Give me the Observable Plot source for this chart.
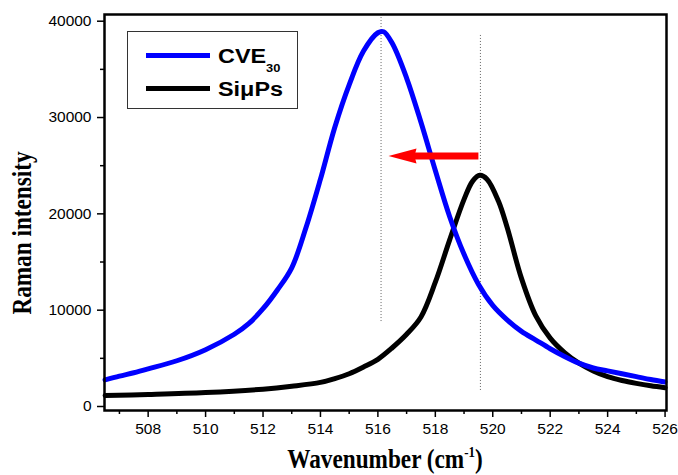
<!DOCTYPE html>
<html>
<head>
<meta charset="utf-8">
<script src="https://cdn.jsdelivr.net/npm/d3@7"></script>
<script src="https://cdn.jsdelivr.net/npm/@observablehq/plot@0.6"></script>
<style>
  html, body { margin: 0; padding: 0; background: white; }
  #wrap { position: relative; width: 678px; height: 475px; overflow: hidden; }
  #wrap svg { position: absolute; left: 0; top: 0; }
  .legend { position: absolute; left: 127px; top: 31px; width: 171px; height: 78px; box-sizing: border-box; border: 1px solid #333; background: white; }
  .legline { position: absolute; left: 18px; width: 64px; height: 5px; }
  .legtext { position: absolute; left: 90px; font-family: "Liberation Sans", Arial, sans-serif; font-weight: bold; font-size: 20px; line-height: 20px; white-space: nowrap; transform: scaleX(1.17); transform-origin: left center; }
  .legtext sub { font-size: 11px; position: relative; top: 9px; vertical-align: baseline; }
  .axtitle { position: absolute; font-family: "Liberation Serif", "Times New Roman", serif; font-weight: bold; font-size: 27px; line-height: 24px; text-align: center; white-space: nowrap; }
  .axtitle sup { font-size: 15px; vertical-align: baseline; position: relative; top: -11px; }
</style>
</head>
<body>
<div id="wrap">
  <div class="legend">
    <div class="legline" style="top:20.5px;background:#0000ff"></div>
    <div class="legline" style="top:53.5px;background:#000"></div>
    <div class="legtext" style="top:14px">CVE<sub>30</sub></div>
    <div class="legtext" style="top:47px">SiμPs</div>
  </div>
  <div class="axtitle" id="xtitle" style="left:104px;width:562px;top:447px;transform:scaleX(0.86);">Wavenumber (cm<sup>-1</sup>)</div>
  <div class="axtitle" id="ytitle" style="left:-78px;top:218px;width:200px;line-height:30px;transform:rotate(-90deg) scaleX(0.86);">Raman intensity</div>
</div>
<script>
// CVE30 spectrum (blue)
const cveWavenumber = [506.5, 507, 507.5, 508, 509, 510, 511, 511.5, 512, 512.5, 513, 513.5, 514, 514.5, 515, 515.5, 516, 516.2, 516.5, 517, 517.5, 518, 518.5, 519, 519.5, 520, 520.5, 521, 521.5, 522, 522.5, 523, 523.5, 524, 524.5, 525, 525.5, 526];
const cveIntensity  = [2770, 3150, 3500, 3900, 4750, 5900, 7500, 8600, 10150, 12100, 14400, 18600, 23600, 29000, 33400, 36900, 38800, 38900, 37700, 34100, 29500, 24500, 19700, 15800, 12700, 10500, 9000, 7800, 6900, 6000, 5200, 4500, 4000, 3700, 3400, 3100, 2800, 2550];

// SiμPs spectrum (black)
const sipsWavenumber = [506.5, 508, 510, 512, 513, 514, 514.5, 515, 515.5, 516, 516.5, 517, 517.5, 518, 518.5, 519, 519.3, 519.55, 519.8, 520.2, 520.5, 521, 521.5, 522, 522.5, 523, 523.5, 524, 524.5, 525, 525.5, 526];
const sipsIntensity  = [1140, 1250, 1450, 1800, 2100, 2500, 2900, 3400, 4100, 4900, 6100, 7500, 9300, 12900, 17300, 21500, 23400, 24000, 23600, 21300, 18600, 13300, 9400, 7100, 5600, 4500, 3700, 3100, 2700, 2400, 2150, 1950];

// Peak marker lines (wavenumber, from, to)
const peakPositions = [516.11, 519.57];
const peakLineTop = [40380, 38520];
const peakLineBottom = [8720, 1660];

// Shift arrow (from SiμPs peak towards CVE30 peak)
const arrowTail = [519.5];
const arrowShaftEnd = [517.0];
const arrowTip = [516.37];
const arrowLevel = [26000];

// Ticks
const xTicks = [508, 510, 512, 514, 516, 518, 520, 522, 524, 526];
const xMinorTicks = [507, 509, 511, 513, 515, 517, 519, 521, 523, 525];
const yTicks = [0, 10000, 20000, 30000, 40000];
const yMinorTicks = [5000, 15000, 25000, 35000];

const cve = cveWavenumber.map((x, i) => ({x, y: cveIntensity[i]}));
const sips = sipsWavenumber.map((x, i) => ({x, y: sipsIntensity[i]}));
const peaks = peakPositions.map((x, i) => ({x, y1: peakLineTop[i], y2: peakLineBottom[i]}));
const arrow = arrowTail.map((t, i) => ({x1: t, x2: arrowShaftEnd[i], tip: arrowTip[i], y: arrowLevel[i]}));

const headSymbol = {
  draw(ctx) {
    ctx.moveTo(0, 0);
    ctx.lineTo(28, -7.5);
    ctx.lineTo(26, 0);
    ctx.lineTo(28, 7.5);
    ctx.closePath();
  }
};

const chart = Plot.plot({
  width: 678,
  height: 475,
  marginLeft: 104,
  marginRight: 12,
  marginTop: 14,
  marginBottom: 65,
  x: {domain: [506.48, 526.05]},
  y: {domain: [-415, 40696]},
  style: {fontFamily: "'Liberation Sans', Arial, sans-serif", fontSize: "15.5px", color: "black", background: "white", overflow: "visible"},
  marks: [
    Plot.ruleX(peaks, {x: "x", y1: "y1", y2: "y2", stroke: "#666", strokeWidth: 1, strokeDasharray: "1,2"}),
    Plot.line(sips, {x: "x", y: "y", stroke: "#000000", strokeWidth: 5, curve: "catmull-rom", strokeLinejoin: "round"}),
    Plot.line(cve, {x: "x", y: "y", stroke: "#0000ff", strokeWidth: 5, curve: "catmull-rom", strokeLinejoin: "round"}),
    Plot.link(arrow, {x1: "x1", x2: "x2", y1: "y", y2: "y", stroke: "#ff0000", strokeWidth: 7, strokeLinecap: "butt"}),
    Plot.dot(arrow, {x: "tip", y: "y", symbol: headSymbol, fill: "#ff0000", stroke: "none"}),
    Plot.axisX({ticks: xTicks, tickSize: 7, tickPadding: 5, tickFormat: "d", label: null, strokeWidth: 1.5}),
    Plot.axisX({ticks: xMinorTicks, tickSize: 4, tickFormat: () => "", label: null, strokeWidth: 1.5}),
    Plot.axisY({ticks: yTicks, tickSize: 7, tickPadding: 6, tickFormat: "d", label: null, strokeWidth: 1.5}),
    Plot.axisY({ticks: yMinorTicks, tickSize: 4, tickFormat: () => "", label: null, strokeWidth: 1.5}),
    Plot.frame({stroke: "black", strokeWidth: 2.5})
  ]
});

document.getElementById("wrap").prepend(chart);
</script>
</body>
</html>
